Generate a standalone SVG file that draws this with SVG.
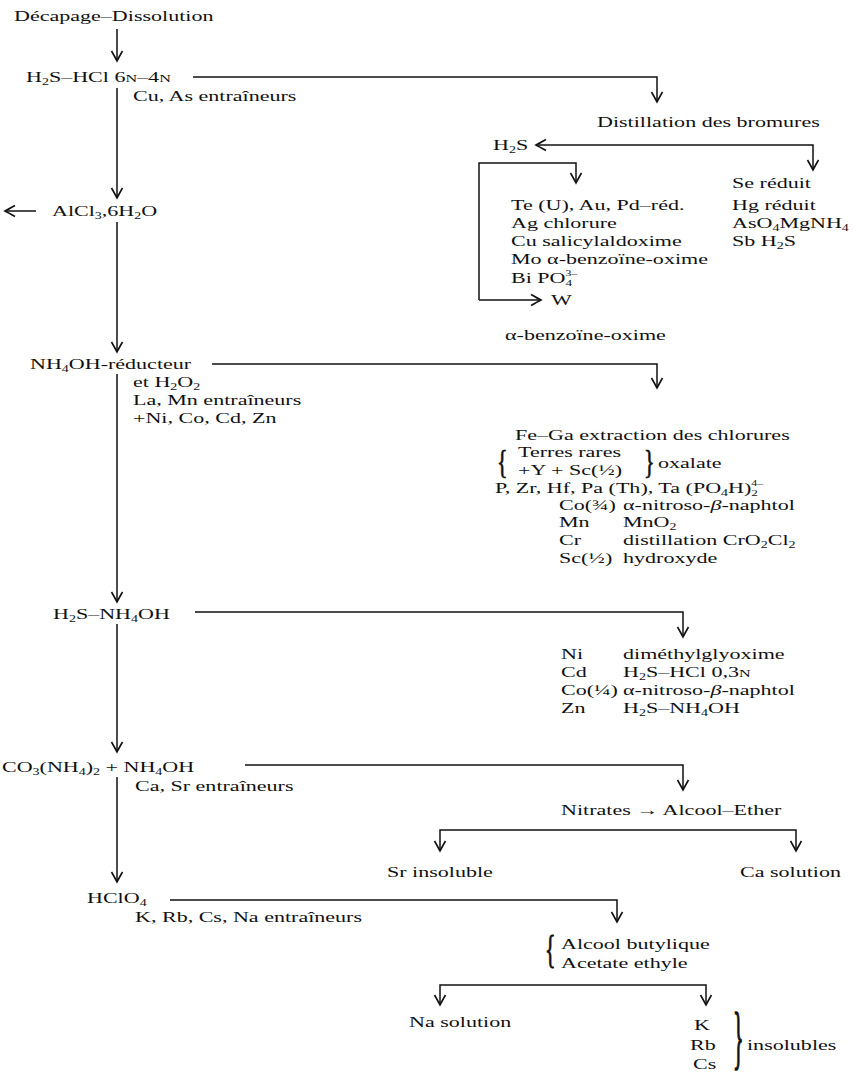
<svg xmlns="http://www.w3.org/2000/svg" width="864" height="1081" viewBox="0 0 864 1081">
<defs>
<style>
.t{font-family:"Liberation Serif","Times New Roman",serif;font-size:15px;fill:#111;}
.s{font-size:9.5px;}
.s2{font-size:9px;}
.sp{font-size:8px;}
.sc{font-size:11px;}
.br{font-family:"Liberation Serif","Times New Roman",serif;font-size:22px;fill:#111;stroke:#111;stroke-width:0.5;}
.c{stroke:#111;stroke-width:1.5;fill:none;}
.a{marker-end:url(#ah);}
</style>
<marker id="ah" viewBox="-11 -7 13 14" markerWidth="13" markerHeight="14" refX="0" refY="0" orient="auto" markerUnits="userSpaceOnUse">
<path d="M-10,-5.5 Q-3,-1.5 0,0 Q-3,1.5 -10,5.5" fill="none" stroke="#111" stroke-width="1.6"/>
</marker>
</defs>
<rect width="864" height="1081" fill="#fff"/>

<g id="connectors">
<path class="c a" d="M117,29 V61"/>
<path class="c a" d="M117,88 V198"/>
<path class="c a" d="M117,222 V352"/>
<path class="c a" d="M117,374 V602"/>
<path class="c a" d="M117,624 V752"/>
<path class="c a" d="M117,777 V882"/>
<path class="c a" d="M36,211 H5"/>
<path class="c a" d="M193,77 H657 V102"/>
<path class="c a" d="M660,145 H536"/>
<path class="c a" d="M660,145 H813 V170"/>
<path class="c a" d="M479,300 V163 H576 V183"/>
<path class="c a" d="M479,300 H541"/>
<path class="c a" d="M212,364 H657 V388"/>
<path class="c a" d="M195,612 H683 V637"/>
<path class="c a" d="M245,765 H683 V790"/>
<path class="c a" d="M617,830 H440 V851"/>
<path class="c a" d="M617,830 H796 V851"/>
<path class="c a" d="M170,900 H617 V922"/>
<path class="c a" d="M573,985 H440 V1005"/>
<path class="c a" d="M573,985 H706 V1005"/>
</g>

<g id="n-decapage"><text class="t" transform="translate(14 21) scale(1.47 1)">Décapage–Dissolution</text></g>

<g id="n-h2s-hcl">
<text class="t" transform="translate(26 82) scale(1.47 1)">H<tspan class="s" dy="2.5">2</tspan><tspan dy="-2.5">S–HCl 6</tspan><tspan class="sc">N</tspan>–4<tspan class="sc">N</tspan></text>
<text class="t" transform="translate(133 101) scale(1.47 1)">Cu, As entraîneurs</text>
</g>

<g id="n-distillation"><text class="t" transform="translate(597 127) scale(1.47 1)">Distillation des bromures</text></g>

<g id="n-h2s"><text class="t" transform="translate(493 150) scale(1.47 1)">H<tspan class="s" dy="2.5">2</tspan><tspan dy="-2.5">S</tspan></text></g>

<g id="n-se">
<text class="t" transform="translate(732 188) scale(1.47 1)">Se réduit</text>
<text class="t" transform="translate(732 210) scale(1.47 1)">Hg réduit</text>
<text class="t" transform="translate(732 228) scale(1.47 1)">AsO<tspan class="s" dy="2.5">4</tspan><tspan dy="-2.5">MgNH</tspan><tspan class="s" dy="2.5">4</tspan></text>
<text class="t" transform="translate(732 246) scale(1.47 1)">Sb H<tspan class="s" dy="2.5">2</tspan><tspan dy="-2.5">S</tspan></text>
</g>

<g id="n-te">
<text class="t" transform="translate(511 210) scale(1.47 1)">Te (U), Au, Pd–réd.</text>
<text class="t" transform="translate(511 228) scale(1.47 1)">Ag chlorure</text>
<text class="t" transform="translate(511 246) scale(1.47 1)">Cu salicylaldoxime</text>
<text class="t" transform="translate(511 264) scale(1.47 1)">Mo α-benzoïne-oxime</text>
<text class="t" transform="translate(511 283) scale(1.47 1)">Bi PO<tspan class="s2" dy="2.5">4</tspan><tspan class="sp" dx="-4.5" dy="-10">3–</tspan></text>
</g>

<g id="n-w">
<text class="t" transform="translate(551 305) scale(1.47 1)">W</text>
<text class="t" transform="translate(505 340) scale(1.47 1)">α-benzoïne-oxime</text>
</g>

<g id="n-alcl3"><text class="t" transform="translate(52 216) scale(1.47 1)">AlCl<tspan class="s" dy="2.5">3</tspan><tspan dy="-2.5">,6H</tspan><tspan class="s" dy="2.5">2</tspan><tspan dy="-2.5">O</tspan></text></g>

<g id="n-nh4oh">
<text class="t" transform="translate(30 369) scale(1.47 1)">NH<tspan class="s" dy="2.5">4</tspan><tspan dy="-2.5">OH-réducteur</tspan></text>
<text class="t" transform="translate(133 387) scale(1.47 1)">et H<tspan class="s" dy="2.5">2</tspan><tspan dy="-2.5">O</tspan><tspan class="s" dy="2.5">2</tspan></text>
<text class="t" transform="translate(133 405) scale(1.47 1)">La, Mn entraîneurs</text>
<text class="t" transform="translate(133 423) scale(1.47 1)">+Ni, Co, Cd, Zn</text>
</g>

<g id="n-fega">
<text class="t" transform="translate(515 440) scale(1.47 1)">Fe–Ga extraction des chlorures</text>
<text class="br" transform="translate(497 472.5) scale(1 1.49)">{</text>
<text class="t" transform="translate(518 457) scale(1.47 1)">Terres rares</text>
<text class="t" transform="translate(518 475) scale(1.47 1)">+Y + Sc(½)</text>
<text class="br" transform="translate(644 472.5) scale(1 1.49)">}</text>
<text class="t" transform="translate(658 468) scale(1.47 1)">oxalate</text>
<text class="t" transform="translate(495 493) scale(1.47 1)">P, Zr, Hf, Pa (Th), Ta (PO<tspan class="s" dy="2.5">4</tspan><tspan dy="-2.5">H)</tspan><tspan class="s2" dy="2.5">2</tspan><tspan class="sp" dx="-4.5" dy="-10">4–</tspan></text>
<text class="t" transform="translate(559 510) scale(1.47 1)">Co(¾)</text>
<text class="t" transform="translate(623 510) scale(1.47 1)">α-nitroso-<tspan font-style="italic">β</tspan>-naphtol</text>
<text class="t" transform="translate(559 527) scale(1.47 1)">Mn</text>
<text class="t" transform="translate(623 527) scale(1.47 1)">MnO<tspan class="s" dy="2.5">2</tspan></text>
<text class="t" transform="translate(559 545) scale(1.47 1)">Cr</text>
<text class="t" transform="translate(623 545) scale(1.47 1)">distillation CrO<tspan class="s" dy="2.5">2</tspan><tspan dy="-2.5">Cl</tspan><tspan class="s" dy="2.5">2</tspan></text>
<text class="t" transform="translate(559 563) scale(1.47 1)">Sc(½)</text>
<text class="t" transform="translate(623 563) scale(1.47 1)">hydroxyde</text>
</g>

<g id="n-h2s-nh4oh"><text class="t" transform="translate(53 619) scale(1.47 1)">H<tspan class="s" dy="2.5">2</tspan><tspan dy="-2.5">S–NH</tspan><tspan class="s" dy="2.5">4</tspan><tspan dy="-2.5">OH</tspan></text></g>

<g id="n-ni">
<text class="t" transform="translate(561 659) scale(1.47 1)">Ni</text>
<text class="t" transform="translate(623 659) scale(1.47 1)">diméthylglyoxime</text>
<text class="t" transform="translate(561 677) scale(1.47 1)">Cd</text>
<text class="t" transform="translate(623 677) scale(1.47 1)">H<tspan class="s" dy="2.5">2</tspan><tspan dy="-2.5">S–HCl 0,3</tspan><tspan class="sc">N</tspan></text>
<text class="t" transform="translate(561 695) scale(1.47 1)">Co(¼)</text>
<text class="t" transform="translate(623 695) scale(1.47 1)">α-nitroso-<tspan font-style="italic">β</tspan>-naphtol</text>
<text class="t" transform="translate(561 713) scale(1.47 1)">Zn</text>
<text class="t" transform="translate(623 713) scale(1.47 1)">H<tspan class="s" dy="2.5">2</tspan><tspan dy="-2.5">S–NH</tspan><tspan class="s" dy="2.5">4</tspan><tspan dy="-2.5">OH</tspan></text>
</g>

<g id="n-co3">
<text class="t" transform="translate(2 772) scale(1.47 1)">CO<tspan class="s" dy="2.5">3</tspan><tspan dy="-2.5">(NH</tspan><tspan class="s" dy="2.5">4</tspan><tspan dy="-2.5">)</tspan><tspan class="s" dy="2.5">2</tspan><tspan dy="-2.5"> + NH</tspan><tspan class="s" dy="2.5">4</tspan><tspan dy="-2.5">OH</tspan></text>
<text class="t" transform="translate(135 791) scale(1.47 1)">Ca, Sr entraîneurs</text>
</g>

<g id="n-nitrates"><text class="t" transform="translate(561 815) scale(1.47 1)">Nitrates → Alcool–Ether</text></g>
<g id="n-sr"><text class="t" transform="translate(387 877) scale(1.47 1)">Sr insoluble</text></g>
<g id="n-ca"><text class="t" transform="translate(740 877) scale(1.47 1)">Ca solution</text></g>

<g id="n-hclo4">
<text class="t" transform="translate(87 903) scale(1.47 1)">HClO<tspan class="s" dy="2.5">4</tspan></text>
<text class="t" transform="translate(135 922) scale(1.47 1)">K, Rb, Cs, Na entraîneurs</text>
</g>

<g id="n-alcool">
<text class="br" transform="translate(545 963) scale(1 1.8)">{</text>
<text class="t" transform="translate(561 949) scale(1.47 1)">Alcool butylique</text>
<text class="t" transform="translate(561 968) scale(1.47 1)">Acetate ethyle</text>
</g>

<g id="n-na"><text class="t" transform="translate(409 1027) scale(1.47 1)">Na solution</text></g>

<g id="n-k">
<text class="t" transform="translate(694 1030) scale(1.47 1)">K</text>
<text class="t" transform="translate(690 1050) scale(1.47 1)">Rb</text>
<text class="t" transform="translate(693 1069) scale(1.47 1)">Cs</text>
<text class="br" transform="translate(733 1061) scale(1 3.2)">}</text>
<text class="t" transform="translate(747 1050) scale(1.47 1)">insolubles</text>
</g>
</svg>
